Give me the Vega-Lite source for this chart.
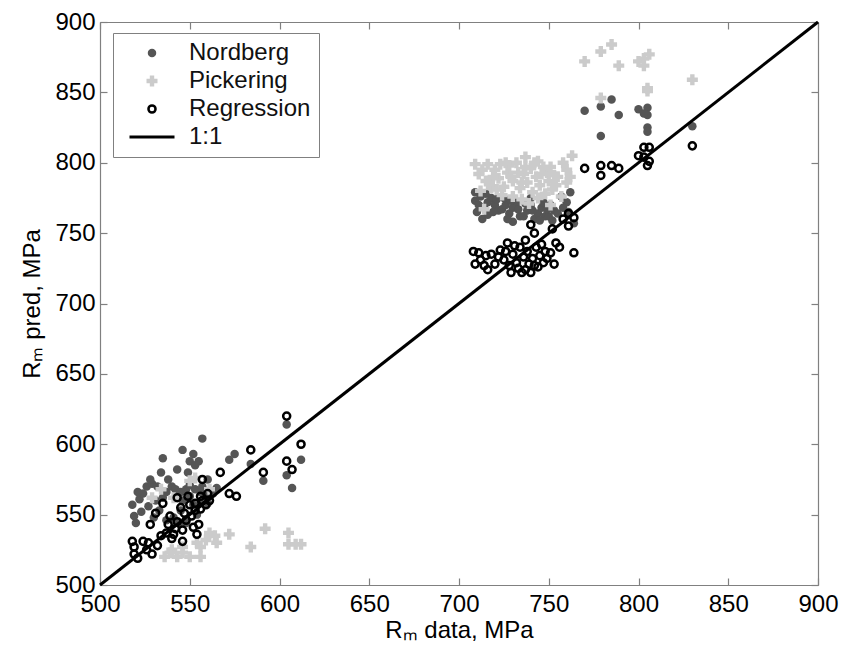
{
  "$schema": "https://vega.github.io/schema/vega-lite/v6.json",
  "width": 718,
  "height": 563,
  "autosize": {"type": "none"},
  "padding": {"left": 100, "top": 22, "right": 23, "bottom": 67},
  "background": "white",
  "config": {
    "view": {"stroke": null},
    "font": "Liberation Sans",
    "axis": {"grid": false, "domainColor": "#808080", "tickColor": "#808080", "labelColor": "#000000", "titleColor": "#000000", "labelFont": "Liberation Sans", "titleFont": "Liberation Sans", "labelFontSize": 24, "titleFontSize": 24, "titleFontWeight": "normal", "domainWidth": 1.2, "tickWidth": 1.2, "tickSize": -7, "labelFlush": false},
    "legend": {"orient": "none", "legendX": 13, "legendY": 11, "padding": 8, "strokeColor": "#808080", "fillColor": "white", "labelFontSize": 24, "labelFont": "Liberation Sans", "labelColor": "#111111", "symbolOffset": 19, "labelOffset": 25, "rowPadding": 4, "symbolSize": 64, "symbolStrokeWidth": 2.5, "symbolOpacity": 1, "labelLimit": 400}
  },
  "datasets": {
    "nordberg": [
      {"x":518,"y":557,"series":"Nordberg"},{"x":519,"y":549,"series":"Nordberg"},{"x":522,"y":561,"series":"Nordberg"},{"x":524,"y":565,"series":"Nordberg"},{"x":526,"y":570,"series":"Nordberg"},{"x":529,"y":572,"series":"Nordberg"},{"x":520,"y":544,"series":"Nordberg"},{"x":523,"y":552,"series":"Nordberg"},{"x":527,"y":556,"series":"Nordberg"},{"x":531,"y":560,"series":"Nordberg"},{"x":533,"y":553,"series":"Nordberg"},{"x":535,"y":562,"series":"Nordberg"},{"x":537,"y":566,"series":"Nordberg"},{"x":540,"y":570,"series":"Nordberg"},{"x":542,"y":568,"series":"Nordberg"},{"x":545,"y":566,"series":"Nordberg"},{"x":548,"y":568,"series":"Nordberg"},{"x":550,"y":571,"series":"Nordberg"},{"x":553,"y":568,"series":"Nordberg"},{"x":556,"y":566,"series":"Nordberg"},{"x":559,"y":563,"series":"Nordberg"},{"x":561,"y":563,"series":"Nordberg"},{"x":563,"y":565,"series":"Nordberg"},{"x":565,"y":569,"series":"Nordberg"},{"x":544,"y":544,"series":"Nordberg"},{"x":548,"y":544,"series":"Nordberg"},{"x":541,"y":548,"series":"Nordberg"},{"x":537,"y":546,"series":"Nordberg"},{"x":552,"y":557,"series":"Nordberg"},{"x":556,"y":558,"series":"Nordberg"},{"x":546,"y":560,"series":"Nordberg"},{"x":534,"y":580,"series":"Nordberg"},{"x":535,"y":590,"series":"Nordberg"},{"x":543,"y":582,"series":"Nordberg"},{"x":546,"y":596,"series":"Nordberg"},{"x":550,"y":588,"series":"Nordberg"},{"x":552,"y":593,"series":"Nordberg"},{"x":555,"y":588,"series":"Nordberg"},{"x":557,"y":604,"series":"Nordberg"},{"x":553,"y":585,"series":"Nordberg"},{"x":549,"y":580,"series":"Nordberg"},{"x":572,"y":589,"series":"Nordberg"},{"x":575,"y":593,"series":"Nordberg"},{"x":584,"y":586,"series":"Nordberg"},{"x":591,"y":574,"series":"Nordberg"},{"x":604,"y":614,"series":"Nordberg"},{"x":604,"y":578,"series":"Nordberg"},{"x":607,"y":569,"series":"Nordberg"},{"x":612,"y":589,"series":"Nordberg"},{"x":528,"y":575,"series":"Nordberg"},{"x":560,"y":575,"series":"Nordberg"},{"x":538,"y":575,"series":"Nordberg"},{"x":530,"y":548,"series":"Nordberg"},{"x":545,"y":553,"series":"Nordberg"},{"x":554,"y":550,"series":"Nordberg"},{"x":560,"y":558,"series":"Nordberg"},{"x":521,"y":566,"series":"Nordberg"},{"x":532,"y":570,"series":"Nordberg"},{"x":550,"y":563,"series":"Nordberg"},{"x":557,"y":570,"series":"Nordberg"},
      {"x":709,"y":779,"series":"Nordberg"},{"x":709,"y":773,"series":"Nordberg"},{"x":711,"y":770,"series":"Nordberg"},{"x":713,"y":760,"series":"Nordberg"},{"x":714,"y":768,"series":"Nordberg"},{"x":716,"y":772,"series":"Nordberg"},{"x":718,"y":775,"series":"Nordberg"},{"x":720,"y":770,"series":"Nordberg"},{"x":722,"y":766,"series":"Nordberg"},{"x":724,"y":767,"series":"Nordberg"},{"x":726,"y":770,"series":"Nordberg"},{"x":728,"y":764,"series":"Nordberg"},{"x":730,"y":768,"series":"Nordberg"},{"x":732,"y":772,"series":"Nordberg"},{"x":734,"y":762,"series":"Nordberg"},{"x":736,"y":762,"series":"Nordberg"},{"x":738,"y":766,"series":"Nordberg"},{"x":740,"y":770,"series":"Nordberg"},{"x":742,"y":760,"series":"Nordberg"},{"x":744,"y":764,"series":"Nordberg"},{"x":746,"y":768,"series":"Nordberg"},{"x":748,"y":762,"series":"Nordberg"},{"x":750,"y":762,"series":"Nordberg"},{"x":751,"y":770,"series":"Nordberg"},{"x":753,"y":766,"series":"Nordberg"},{"x":760,"y":772,"series":"Nordberg"},{"x":762,"y":779,"series":"Nordberg"},{"x":764,"y":757,"series":"Nordberg"},{"x":761,"y":765,"series":"Nordberg"},{"x":757,"y":776,"series":"Nordberg"},{"x":730,"y":758,"series":"Nordberg"},{"x":725,"y":775,"series":"Nordberg"},{"x":716,"y":763,"series":"Nordberg"},{"x":740,"y":775,"series":"Nordberg"},{"x":712,"y":776,"series":"Nordberg"},{"x":715,"y":778,"series":"Nordberg"},{"x":719,"y":765,"series":"Nordberg"},{"x":721,"y":774,"series":"Nordberg"},{"x":727,"y":760,"series":"Nordberg"},{"x":729,"y":773,"series":"Nordberg"},{"x":733,"y":767,"series":"Nordberg"},{"x":737,"y":771,"series":"Nordberg"},{"x":741,"y":766,"series":"Nordberg"},{"x":745,"y":759,"series":"Nordberg"},{"x":747,"y":772,"series":"Nordberg"},{"x":749,"y":767,"series":"Nordberg"},{"x":752,"y":759,"series":"Nordberg"},{"x":755,"y":764,"series":"Nordberg"},{"x":758,"y":768,"series":"Nordberg"},{"x":710,"y":765,"series":"Nordberg"},
      {"x":785,"y":845,"series":"Nordberg"},{"x":779,"y":840,"series":"Nordberg"},{"x":770,"y":837,"series":"Nordberg"},{"x":789,"y":834,"series":"Nordberg"},{"x":800,"y":838,"series":"Nordberg"},{"x":805,"y":839,"series":"Nordberg"},{"x":805,"y":834,"series":"Nordberg"},{"x":805,"y":825,"series":"Nordberg"},{"x":805,"y":822,"series":"Nordberg"},{"x":779,"y":819,"series":"Nordberg"},{"x":830,"y":826,"series":"Nordberg"},{"x":803,"y":835,"series":"Nordberg"}
    ],
    "pickering": [
      {"x":550,"y":574,"series":"Pickering"},{"x":534,"y":568,"series":"Pickering"},{"x":561,"y":568,"series":"Pickering"},{"x":564,"y":535,"series":"Pickering"},{"x":572,"y":536,"series":"Pickering"},{"x":592,"y":540,"series":"Pickering"},{"x":584,"y":527,"series":"Pickering"},{"x":605,"y":537,"series":"Pickering"},{"x":605,"y":529,"series":"Pickering"},{"x":609,"y":529,"series":"Pickering"},{"x":612,"y":529,"series":"Pickering"},{"x":536,"y":520,"series":"Pickering"},{"x":543,"y":520,"series":"Pickering"},{"x":550,"y":520,"series":"Pickering"},{"x":556,"y":520,"series":"Pickering"},{"x":540,"y":525,"series":"Pickering"},{"x":546,"y":527,"series":"Pickering"},{"x":554,"y":530,"series":"Pickering"},{"x":559,"y":532,"series":"Pickering"},{"x":561,"y":537,"series":"Pickering"},{"x":565,"y":530,"series":"Pickering"},{"x":539,"y":523,"series":"Pickering"},{"x":546,"y":523,"series":"Pickering"},{"x":556,"y":527,"series":"Pickering"},{"x":529,"y":562,"series":"Pickering"},{"x":541,"y":562,"series":"Pickering"},{"x":553,"y":576,"series":"Pickering"},
      {"x":709,"y":799,"series":"Pickering"},{"x":716,"y":799,"series":"Pickering"},{"x":728,"y":798,"series":"Pickering"},{"x":737,"y":804,"series":"Pickering"},{"x":744,"y":801,"series":"Pickering"},{"x":749,"y":793,"series":"Pickering"},{"x":753,"y":791,"series":"Pickering"},{"x":763,"y":805,"series":"Pickering"},{"x":760,"y":795,"series":"Pickering"},{"x":760,"y":786,"series":"Pickering"},{"x":714,"y":767,"series":"Pickering"},{"x":751,"y":770,"series":"Pickering"},{"x":711,"y":792,"series":"Pickering"},{"x":715,"y":787,"series":"Pickering"},{"x":720,"y":795,"series":"Pickering"},{"x":722,"y":789,"series":"Pickering"},{"x":725,"y":783,"series":"Pickering"},{"x":727,"y":793,"series":"Pickering"},{"x":730,"y":787,"series":"Pickering"},{"x":732,"y":800,"series":"Pickering"},{"x":734,"y":782,"series":"Pickering"},{"x":736,"y":792,"series":"Pickering"},{"x":738,"y":786,"series":"Pickering"},{"x":740,"y":796,"series":"Pickering"},{"x":741,"y":779,"series":"Pickering"},{"x":743,"y":790,"series":"Pickering"},{"x":745,"y":784,"series":"Pickering"},{"x":747,"y":797,"series":"Pickering"},{"x":748,"y":778,"series":"Pickering"},{"x":750,"y":787,"series":"Pickering"},{"x":752,"y":781,"series":"Pickering"},{"x":712,"y":780,"series":"Pickering"},{"x":718,"y":782,"series":"Pickering"},{"x":724,"y":777,"series":"Pickering"},{"x":730,"y":776,"series":"Pickering"},{"x":735,"y":774,"series":"Pickering"},{"x":739,"y":771,"series":"Pickering"},{"x":744,"y":775,"series":"Pickering"},{"x":719,"y":790,"series":"Pickering"},{"x":733,"y":793,"series":"Pickering"},{"x":742,"y":800,"series":"Pickering"},{"x":726,"y":800,"series":"Pickering"},{"x":754,"y":784,"series":"Pickering"},{"x":757,"y":776,"series":"Pickering"},{"x":762,"y":790,"series":"Pickering"},{"x":746,"y":792,"series":"Pickering"},{"x":713,"y":795,"series":"Pickering"},{"x":717,"y":785,"series":"Pickering"},{"x":723,"y":799,"series":"Pickering"},{"x":729,"y":790,"series":"Pickering"},{"x":737,"y":797,"series":"Pickering"},{"x":751,"y":797,"series":"Pickering"},{"x":755,"y":790,"series":"Pickering"},{"x":758,"y":800,"series":"Pickering"},{"x":735,"y":786,"series":"Pickering"},{"x":721,"y":781,"series":"Pickering"},
      {"x":785,"y":884,"series":"Pickering"},{"x":779,"y":879,"series":"Pickering"},{"x":770,"y":872,"series":"Pickering"},{"x":789,"y":869,"series":"Pickering"},{"x":800,"y":872,"series":"Pickering"},{"x":806,"y":877,"series":"Pickering"},{"x":803,"y":869,"series":"Pickering"},{"x":805,"y":853,"series":"Pickering"},{"x":805,"y":851,"series":"Pickering"},{"x":830,"y":859,"series":"Pickering"},{"x":779,"y":846,"series":"Pickering"},{"x":803,"y":874,"series":"Pickering"}
    ],
    "regression": [
      {"x":604,"y":620,"series":"Regression"},{"x":612,"y":600,"series":"Regression"},{"x":604,"y":588,"series":"Regression"},{"x":607,"y":582,"series":"Regression"},{"x":591,"y":580,"series":"Regression"},{"x":584,"y":596,"series":"Regression"},{"x":567,"y":580,"series":"Regression"},{"x":572,"y":565,"series":"Regression"},{"x":576,"y":563,"series":"Regression"},{"x":557,"y":575,"series":"Regression"},{"x":535,"y":558,"series":"Regression"},{"x":543,"y":562,"series":"Regression"},{"x":531,"y":551,"series":"Regression"},{"x":528,"y":543,"series":"Regression"},{"x":518,"y":531,"series":"Regression"},{"x":519,"y":527,"series":"Regression"},{"x":521,"y":519,"series":"Regression"},{"x":529,"y":522,"series":"Regression"},{"x":534,"y":535,"series":"Regression"},{"x":546,"y":531,"series":"Regression"},{"x":554,"y":536,"series":"Regression"},{"x":555,"y":543,"series":"Regression"},{"x":546,"y":539,"series":"Regression"},{"x":550,"y":557,"series":"Regression"},{"x":556,"y":563,"series":"Regression"},{"x":559,"y":557,"series":"Regression"},{"x":545,"y":555,"series":"Regression"},{"x":539,"y":549,"series":"Regression"},{"x":524,"y":531,"series":"Regression"},{"x":526,"y":525,"series":"Regression"},{"x":532,"y":528,"series":"Regression"},{"x":537,"y":537,"series":"Regression"},{"x":540,"y":533,"series":"Regression"},{"x":542,"y":540,"series":"Regression"},{"x":548,"y":546,"series":"Regression"},{"x":551,"y":549,"series":"Regression"},{"x":553,"y":553,"series":"Regression"},{"x":557,"y":560,"series":"Regression"},{"x":561,"y":560,"series":"Regression"},{"x":549,"y":563,"series":"Regression"},{"x":560,"y":565,"series":"Regression"},{"x":527,"y":530,"series":"Regression"},{"x":543,"y":545,"series":"Regression"},{"x":538,"y":543,"series":"Regression"},{"x":552,"y":541,"series":"Regression"},{"x":519,"y":522,"series":"Regression"},{"x":547,"y":551,"series":"Regression"},{"x":553,"y":558,"series":"Regression"},{"x":556,"y":554,"series":"Regression"},{"x":541,"y":536,"series":"Regression"},
      {"x":708,"y":737,"series":"Regression"},{"x":709,"y":728,"series":"Regression"},{"x":715,"y":734,"series":"Regression"},{"x":716,"y":724,"series":"Regression"},{"x":723,"y":738,"series":"Regression"},{"x":727,"y":743,"series":"Regression"},{"x":735,"y":722,"series":"Regression"},{"x":740,"y":722,"series":"Regression"},{"x":740,"y":756,"series":"Regression"},{"x":742,"y":750,"series":"Regression"},{"x":751,"y":736,"series":"Regression"},{"x":753,"y":728,"series":"Regression"},{"x":761,"y":764,"series":"Regression"},{"x":764,"y":761,"series":"Regression"},{"x":761,"y":755,"series":"Regression"},{"x":764,"y":736,"series":"Regression"},{"x":752,"y":753,"series":"Regression"},{"x":712,"y":731,"series":"Regression"},{"x":720,"y":728,"series":"Regression"},{"x":725,"y":731,"series":"Regression"},{"x":730,"y":735,"series":"Regression"},{"x":732,"y":729,"series":"Regression"},{"x":734,"y":740,"series":"Regression"},{"x":736,"y":733,"series":"Regression"},{"x":738,"y":737,"series":"Regression"},{"x":739,"y":728,"series":"Regression"},{"x":741,"y":732,"series":"Regression"},{"x":743,"y":740,"series":"Regression"},{"x":745,"y":734,"series":"Regression"},{"x":747,"y":729,"series":"Regression"},{"x":748,"y":737,"series":"Regression"},{"x":744,"y":726,"series":"Regression"},{"x":733,"y":725,"series":"Regression"},{"x":728,"y":727,"series":"Regression"},{"x":737,"y":745,"series":"Regression"},{"x":746,"y":742,"series":"Regression"},{"x":718,"y":735,"series":"Regression"},{"x":711,"y":736,"series":"Regression"},{"x":714,"y":727,"series":"Regression"},{"x":722,"y":733,"series":"Regression"},{"x":726,"y":737,"series":"Regression"},{"x":731,"y":741,"series":"Regression"},{"x":742,"y":727,"series":"Regression"},{"x":749,"y":732,"series":"Regression"},{"x":754,"y":743,"series":"Regression"},{"x":729,"y":722,"series":"Regression"},{"x":737,"y":724,"series":"Regression"},{"x":756,"y":740,"series":"Regression"},{"x":758,"y":760,"series":"Regression"},
      {"x":770,"y":796,"series":"Regression"},{"x":779,"y":798,"series":"Regression"},{"x":779,"y":791,"series":"Regression"},{"x":785,"y":798,"series":"Regression"},{"x":789,"y":796,"series":"Regression"},{"x":800,"y":805,"series":"Regression"},{"x":803,"y":811,"series":"Regression"},{"x":806,"y":811,"series":"Regression"},{"x":803,"y":804,"series":"Regression"},{"x":806,"y":801,"series":"Regression"},{"x":805,"y":798,"series":"Regression"},{"x":830,"y":812,"series":"Regression"}
    ],
    "oneone": [
      {"x":500,"y":500,"series":"1:1"},{"x":900,"y":900,"series":"1:1"}
    ]
  },
  "layer": [
    {
      "data": {"name": "oneone"},
      "mark": {"type": "point", "opacity": 0},
      "encoding": {
        "x": {"field": "x", "type": "quantitative", "scale": {"domain": [500, 900], "nice": false, "zero": false}, "axis": {"orient": "top", "labels": false, "title": null, "values": [500,550,600,650,700,750,800,850,900]}},
        "y": {"field": "y", "type": "quantitative", "scale": {"domain": [500, 900], "nice": false, "zero": false}, "axis": {"orient": "right", "labels": false, "title": null, "values": [500,550,600,650,700,750,800,850,900]}}
      }
    },
    {
      "data": {"name": "nordberg"},
      "mark": {"type": "point", "filled": true, "size": 72, "strokeWidth": 0, "opacity": 1},
      "encoding": {
        "x": {"field": "x", "type": "quantitative", "axis": {"orient": "bottom", "title": "Rₘ data, MPa", "values": [500,550,600,650,700,750,800,850,900], "labelPadding": 14, "titlePadding": 2}},
        "y": {"field": "y", "type": "quantitative", "axis": {"orient": "left", "title": "Rₘ pred, MPa", "values": [500,550,600,650,700,750,800,850,900], "labelPadding": 12, "titlePadding": 10}},
        "shape": {"field": "series", "type": "nominal", "scale": {"domain": ["Nordberg", "Pickering", "Regression", "1:1"], "range": ["circle", "cross", "circle", "stroke"]},
          "legend": {"title": null,
            "encode": {"labels": {"update": {"text": {"signal": "datum.label + '\u2002\u2002'"}}}, "symbols": {"update": {
              "size": {"signal": "datum.value === '1:1' ? 2025 : datum.value === 'Pickering' ? 121 : datum.value === 'Regression' ? 50 : 72"},
              "strokeWidth": {"signal": "datum.value === '1:1' ? 3 : datum.value === 'Regression' ? 2.5 : 0"},
              "opacity": {"value": 1}
            }}}}},
        "fill": {"field": "series", "type": "nominal", "scale": {"domain": ["Nordberg", "Pickering", "Regression", "1:1"], "range": ["#555555", "#cbcbcb", "transparent", "transparent"]},
          "legend": {"title": null,
            "encode": {"labels": {"update": {"text": {"signal": "datum.label + '\u2002\u2002'"}}}, "symbols": {"update": {
              "size": {"signal": "datum.value === '1:1' ? 2025 : datum.value === 'Pickering' ? 121 : datum.value === 'Regression' ? 50 : 72"},
              "strokeWidth": {"signal": "datum.value === '1:1' ? 3 : datum.value === 'Regression' ? 2.5 : 0"},
              "opacity": {"value": 1}
            }}}}},
        "stroke": {"field": "series", "type": "nominal", "scale": {"domain": ["Nordberg", "Pickering", "Regression", "1:1"], "range": ["#555555", "#cbcbcb", "#000000", "#000000"]},
          "legend": {"title": null,
            "encode": {"labels": {"update": {"text": {"signal": "datum.label + '\u2002\u2002'"}}}, "symbols": {"update": {
              "size": {"signal": "datum.value === '1:1' ? 2025 : datum.value === 'Pickering' ? 121 : datum.value === 'Regression' ? 50 : 72"},
              "strokeWidth": {"signal": "datum.value === '1:1' ? 3 : datum.value === 'Regression' ? 2.5 : 0"},
              "opacity": {"value": 1}
            }}}}}
      }
    },
    {
      "data": {"name": "pickering"},
      "mark": {"type": "point", "filled": true, "size": 121, "strokeWidth": 0, "opacity": 1},
      "encoding": {
        "x": {"field": "x", "type": "quantitative", "axis": null},
        "y": {"field": "y", "type": "quantitative", "axis": null},
        "shape": {"field": "series", "type": "nominal"},
        "fill": {"field": "series", "type": "nominal"},
        "stroke": {"field": "series", "type": "nominal"}
      }
    },
    {
      "data": {"name": "regression"},
      "mark": {"type": "point", "filled": true, "size": 50, "strokeWidth": 2.5, "opacity": 1},
      "encoding": {
        "x": {"field": "x", "type": "quantitative", "axis": null},
        "y": {"field": "y", "type": "quantitative", "axis": null},
        "shape": {"field": "series", "type": "nominal"},
        "fill": {"field": "series", "type": "nominal"},
        "stroke": {"field": "series", "type": "nominal"}
      }
    },
    {
      "data": {"name": "oneone"},
      "mark": {"type": "line", "strokeWidth": 3},
      "encoding": {
        "x": {"field": "x", "type": "quantitative", "axis": null},
        "y": {"field": "y", "type": "quantitative", "axis": null},
        "stroke": {"field": "series", "type": "nominal"}
      }
    }
  ],
  "resolve": {"axis": {"x": "independent", "y": "independent"}}
}
